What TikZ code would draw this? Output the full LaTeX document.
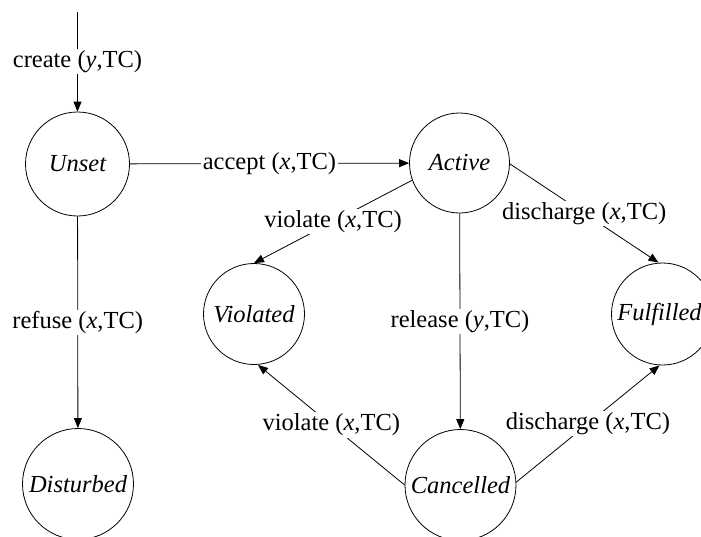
\documentclass[tikz,border=0pt]{standalone}
\usepackage{fontspec}
\setmainfont{Liberation Serif}
\usetikzlibrary{arrows.meta}
\begin{document}
\begin{tikzpicture}[x=1pt,y=-1pt,
  state/.style={draw,circle,line width=0.8pt,inner sep=0pt,font=\fontsize{24.5}{29}\selectfont\itshape},
  lbl/.style={fill=white,inner sep=1.5pt,font=\fontsize{24.5}{29}\selectfont},
  conn/.style={line width=0.8pt},
  arr/.style={line width=0.8pt,-{Triangle[length=10pt,width=8pt]}}]
\useasboundingbox (0,0) rectangle (701,536);
\node[state,minimum size=104pt] (unset) at (77.5,164) {Unset};
\node[state,minimum size=100pt] (active) at (459.5,163) {Active};
\node[state,minimum size=101pt] (violated) at (254,314) {Violated};
\node[state,minimum size=102pt] (fulfilled) at (662.5,314) {\hspace*{-6pt}Fulfilled};
\node[state,minimum size=111pt] (disturbed) at (78,484) {Disturbed};
\node[state,minimum size=111pt] (cancelled) at (460.5,485) {Cancelled};
\coordinate (start) at (77.5,12);
\draw[arr] (start) -- node[lbl] {create (\textit{y},TC)} (unset);
\draw[arr] (unset) -- node[lbl] {accept (\textit{x},TC)} (active);
\draw[arr] (unset) -- node[lbl] {refuse (\textit{x},TC)} (disturbed);
\draw[arr] (active.200) -- node[lbl] {violate (\textit{x},TC)} (violated.north);
\draw[arr] (active.-1) -- node[lbl] {discharge (\textit{x},TC)} ([xshift=-4pt]fulfilled.north);
\draw[arr] (active) -- node[lbl] {release (\textit{y},TC)} (cancelled);
\draw[arr] (cancelled.west) -- node[lbl] {violate (\textit{x},TC)} ([xshift=4pt]violated.south);
\draw[arr] (cancelled.3) -- node[lbl] {discharge (\textit{x},TC)} ([xshift=-3pt]fulfilled.south);
\end{tikzpicture}
\end{document}
